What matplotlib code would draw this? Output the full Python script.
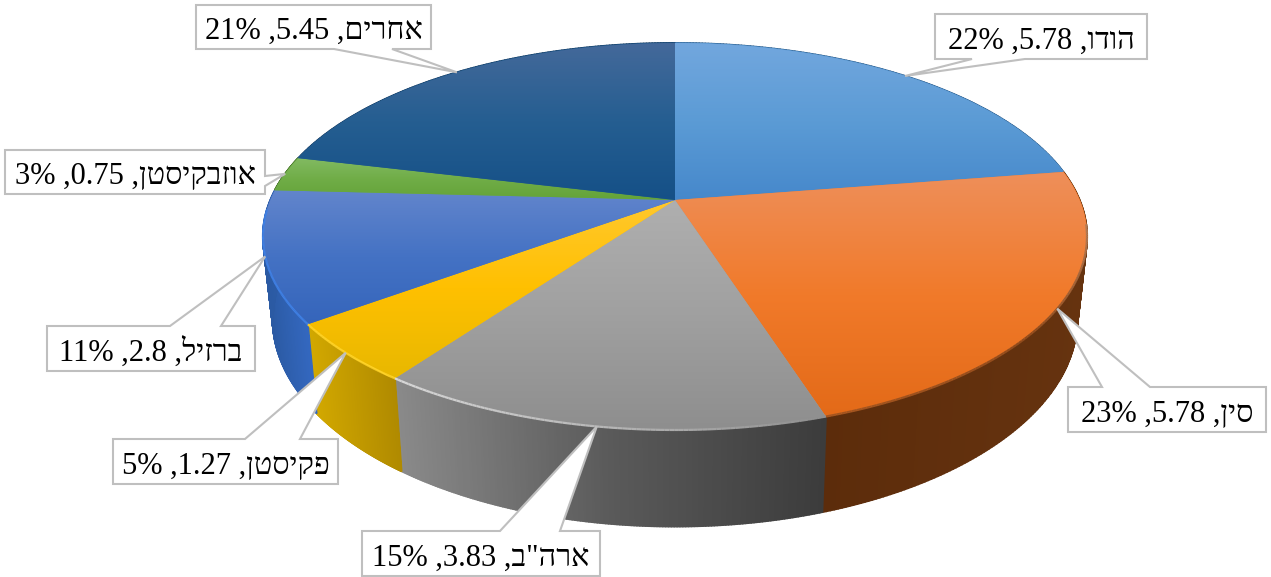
import numpy as np
import matplotlib
matplotlib.use('Agg')
import matplotlib.pyplot as plt
from matplotlib.collections import LineCollection, PolyCollection
from matplotlib.colors import LinearSegmentedColormap
from matplotlib.patches import Polygon

plt.rcParams['font.family'] = ['Liberation Serif', 'DejaVu Serif']

names = ['הודו', 'סין', 'ארה"ב', 'פקיסטן', 'ברזיל', 'אוזבקיסטן', 'אחרים']
values = [5.78, 5.78, 3.83, 1.27, 2.8, 0.75, 5.45]
percents = [22, 23, 15, 5, 11, 3, 21]

# gradients, top faces run top to bottom, walls run left to right
top_colors = [['#72a7de', '#5b9bd5', '#4688cb'],
              ['#ee8f5a', '#f17a2a', '#e36a18'],
              ['#afafaf', '#a0a0a0', '#8e8e8e'],
              ['#ffc82e', '#ffc000', '#e8b800'],
              ['#6285cc', '#4472c4', '#3565bb'],
              ['#82ba62', '#70ad47', '#64a338'],
              ['#44699a', '#255e91', '#155087']]
wall_colors = [['#2d5f8f', '#2d5f8f'],
               ['#5c2c0b', '#66330f'],
               ['#8a8a8a', '#5a5a5a', '#3c3c3c'],
               ['#d2a800', '#b08a00'],
               ['#2b5aa3', '#3468c0'],
               ['#4c7a30', '#4c7a30'],
               ['#163e66', '#163e66']]
# highlight along the front edge, in clockwise order, and where it starts and stops on the slice
rims = [None,
        (['#b07a55', '#8f4a1c', '#a4551f'], 0.2, 1.0),
        (['#8f8f8f', '#b8b8b8', '#d8d8d8'], 0.0, 1.0),
        (['#ffd42a', '#ffd42a'], 0.0, 1.0),
        (['#3f80e4', '#3f80e4'], 0.0, 0.85),
        None, None]

# box of each label: left, top, right, bottom
boxes = [(935, 14, 1147, 59), (1068, 387, 1266, 432), (362, 531, 600, 576),
         (113, 439, 338, 484), (47, 326, 255, 371), (5, 150, 265, 194), (196, 5, 431, 49)]
# where the pointer leaves the box
bases = [((972, 59), (1025, 59)), ((1102, 387), (1150, 387)), ((500, 531), (560, 531)),
         ((245, 439), (300, 439)), ((170, 326), (221, 326)), ((265, 176), (265, 186)),
         ((334, 49), (392, 49))]

# pie projection, in pixels
cx, cy = 675, 200
persp = 0.1886
top_kx, top_ky = 404.6, 186.6
bot_kx, bot_ky, bot_y = 395, 200, 280


def project(theta, kx, ky, y0):
    x = np.sin(theta)
    y = np.cos(theta)
    d = 1 + persp * y
    return cx + kx * x / d, y0 - ky * y / d


def face_gradient(ax, poly, colors, zorder):
    x0, y0 = poly.min(axis=0)
    x1, y1 = poly.max(axis=0)
    cmap = LinearSegmentedColormap.from_list('g', colors)
    g = np.linspace(0, 1, 256).reshape(-1, 1)
    im = ax.imshow(g, cmap=cmap, extent=(x0, x1, y1, y0), aspect='auto', zorder=zorder, vmin=0, vmax=1)
    patch = Polygon(poly, closed=True, transform=ax.transData, fc=cmap(0.5), ec=cmap(0.5), lw=0.6, zorder=zorder - 0.1)
    ax.add_patch(patch)
    im.set_clip_path(patch)


fig = plt.figure(figsize=(12.71, 5.77), dpi=100)
ax = fig.add_axes([0, 0, 1, 1])

shares = np.cumsum([0] + values) / sum(values) * 2 * np.pi

# walls as strips, a plain outline would miss the tangent at the two sides
for i in range(len(values)):
    t = np.linspace(shares[i], shares[i + 1], 160)
    tx, ty = project(t, top_kx, top_ky, cy)
    bx, by = project(t, bot_kx, bot_ky, bot_y)
    cmap = LinearSegmentedColormap.from_list('w', wall_colors[i])
    quads = []
    cols = []
    x0, x1 = tx.min(), tx.max()
    for j in range(len(t) - 1):
        quads.append([(tx[j], ty[j]), (tx[j + 1], ty[j + 1]), (bx[j + 1], by[j + 1]), (bx[j], by[j])])
        cols.append(cmap((tx[j] - x0) / (x1 - x0)))
    ax.add_collection(PolyCollection(quads, facecolors=cols, edgecolors=cols, linewidths=1.4, zorder=2))

for i in range(len(values)):
    t = np.linspace(shares[i], shares[i + 1], 160)
    tx, ty = project(t, top_kx, top_ky, cy)
    face = np.column_stack([np.r_[cx, tx], np.r_[cy, ty]])
    face_gradient(ax, face, top_colors[i], 3)

for i, rim in enumerate(rims):
    if rim is None:
        continue
    colors, f0, f1 = rim
    span = shares[i + 1] - shares[i]
    t = np.linspace(shares[i] + f0 * span, shares[i] + f1 * span, 100)
    tx, ty = project(t, top_kx, top_ky, cy)
    pts = np.column_stack([tx, ty])
    segs = np.stack([pts[:-1], pts[1:]], axis=1)
    cmap = LinearSegmentedColormap.from_list('r', colors)
    ax.add_collection(LineCollection(segs, colors=cmap(np.linspace(0, 1, len(segs))), linewidths=1.6, zorder=4))

for i, name in enumerate(names):
    mid = (shares[i] + shares[i + 1]) / 2
    tip = project(mid, top_kx, top_ky, cy)
    l, t, r, b = boxes[i]
    b0, b1 = bases[i]
    if b0[1] == b:
        pts = [(l, t), (r, t), (r, b), b1, tip, b0, (l, b)]
    elif b0[1] == t:
        pts = [(l, t), b0, tip, b1, (r, t), (r, b), (l, b)]
    else:
        pts = [(l, t), (r, t), b0, tip, b1, (r, b), (l, b)]
    ax.add_patch(Polygon(pts, closed=True, fc='white', ec='#bfbfbf', lw=1.5, zorder=5))
    # matplotlib has no bidi, so the Hebrew goes in visual order
    label = f'{percents[i]}% ,{values[i]} ,{name[::-1]}'
    ax.text((l + r) / 2, b - 10, label, fontsize=22, color='black', ha='center', va='baseline', zorder=6)

ax.set_xlim(0, 1271)
ax.set_ylim(577, 0)
ax.axis('off')

plt.savefig('out.png', dpi=100)
